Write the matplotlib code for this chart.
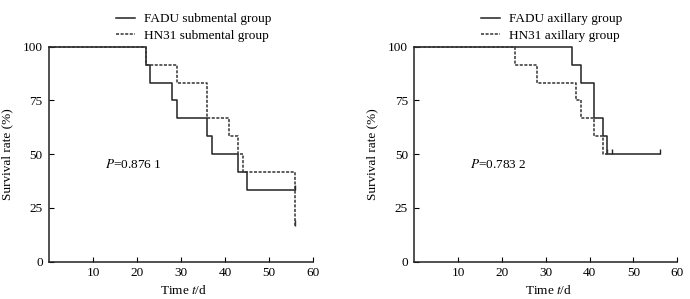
import numpy as np
import matplotlib
matplotlib.use('Agg')
import matplotlib.pyplot as plt

plt.rcParams['font.family'] = ['Liberation Serif', 'DejaVu Serif']
plt.rcParams['mathtext.fontset'] = 'stix'
plt.rcParams['font.size'] = 9.5

# Kaplan-Meier step data (time in days, survival %)
sub_fadu_t = [0, 22, 23, 28, 29, 36, 37, 43, 45, 56]
sub_fadu_s = [100, 91.7, 83.3, 75, 66.7, 58.3, 50, 41.7, 33.3, 33.3]
sub_fadu_cens = [56]
sub_hn31_t = [0, 22, 29, 36, 41, 43, 44, 56]
sub_hn31_s = [100, 91.7, 83.3, 66.7, 58.3, 50, 41.7, 16.7]
sub_hn31_cens = [56]

ax_fadu_t = [0, 36, 38, 41, 43, 44, 56]
ax_fadu_s = [100, 91.7, 83.3, 66.7, 58.3, 50, 50]
ax_fadu_cens = [45, 56]
ax_hn31_t = [0, 23, 28, 37, 38, 41, 43, 44]
ax_hn31_s = [100, 91.7, 83.3, 75, 66.7, 58.3, 50, 50]
ax_hn31_cens = [44]

xticks = [10, 20, 30, 40, 50, 60]
yticks = [0, 25, 50, 75, 100]

panels = [
    (sub_fadu_t, sub_fadu_s, sub_fadu_cens, sub_hn31_t, sub_hn31_s, sub_hn31_cens,
     'FADU submental group', 'HN31 submental group', '$P$=0.876 1'),
    (ax_fadu_t, ax_fadu_s, ax_fadu_cens, ax_hn31_t, ax_hn31_s, ax_hn31_cens,
     'FADU axillary group', 'HN31 axillary group', '$P$=0.783 2'),
]

fig = plt.figure(figsize=(6.9, 2.99), dpi=100)
positions = [[0.0710, 0.1247, 0.3826, 0.719], [0.6004, 0.1247, 0.3812, 0.719]]

solid_c = '#222222'
dash_c = '#333333'

for pos, p in zip(positions, panels):
    ft, fs, fc, ht, hs, hc, lab1, lab2, ptxt = p
    ax = fig.add_axes(pos)
    l1, = ax.step(ft, fs, where='post', color=solid_c, lw=1.1, clip_on=False)
    l2, = ax.step(ht, hs, where='post', color=dash_c, lw=1.1,
                  linestyle=(0, (2, 1)), clip_on=False)
    # censor marks
    for c in fc:
        yv = fs[np.searchsorted(ft, c, side='right') - 1]
        ax.vlines(c, yv, yv + 2.5, color=solid_c, lw=1.0, clip_on=False)
    for c in hc:
        yv = hs[np.searchsorted(ht, c, side='right') - 1]
        ax.vlines(c, yv, yv + 2.5, color=dash_c, lw=1.0, clip_on=False)

    ax.set_xlim(0, 60)
    ax.set_ylim(0, 100)
    ax.set_xticks(xticks)
    ax.set_yticks(yticks)
    ax.tick_params(direction='in', length=3.5, width=0.8, pad=3.5)
    ax.tick_params(axis='y', pad=4.5)
    for s in ['top', 'right']:
        ax.spines[s].set_visible(False)
    for s in ['left', 'bottom']:
        ax.spines[s].set_linewidth(1.1)
        ax.spines[s].set_color('#222222')

    ax.set_ylabel('Survival rate (%)')
    ax.yaxis.set_label_coords(-0.135, 0.5)
    ax.text(0.51, -0.135, 'Time $t$/d', transform=ax.transAxes,
            ha='center', va='center')
    ax.text(12.7, 45, ptxt, ha='left', va='center')

    ax.legend([l1, l2], [lab1, lab2], loc='upper left',
              bbox_to_anchor=(0.255, 1.157), frameon=False,
              handlelength=1.4, handletextpad=0.7, labelspacing=0.35,
              borderpad=0, borderaxespad=0)

fig.savefig('out.png', dpi=100)
